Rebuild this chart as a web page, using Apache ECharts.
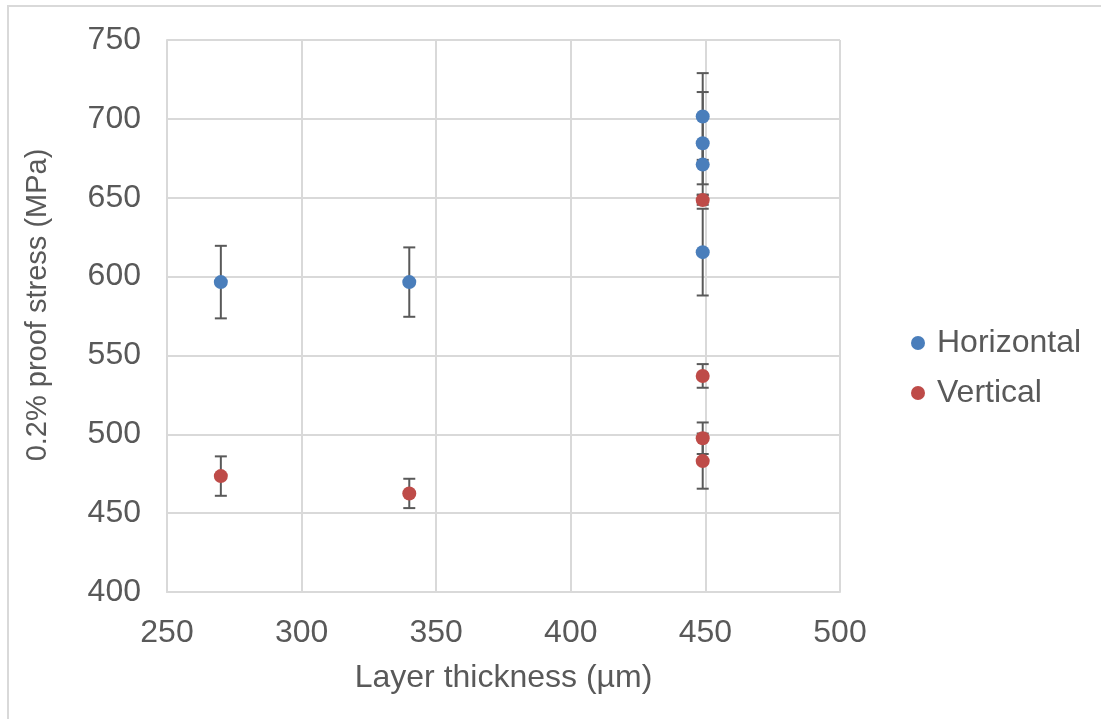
<!DOCTYPE html>
<html>
<head>
<meta charset="utf-8">
<script src="https://cdn.jsdelivr.net/npm/echarts@6/dist/echarts.min.js"></script>
<style>
  html, body { margin: 0; padding: 0; background: #ffffff; }
  #chart { width: 1101px; height: 719px; }
</style>
</head>
<body>
<div id="chart"></div>
<script>
// Layer thickness (µm) vs 0.2% proof stress (MPa), with ± error bars
const xTicks = [250, 300, 350, 400, 450, 500];
const yTicks = [400, 450, 500, 550, 600, 650, 700, 750];

const horizontalX = [270, 340, 449, 449, 449, 449];
const horizontalY = [596.5, 596.5, 701.5, 684.5, 671, 615.5];
const horizontalErr = [23, 22, 27.5, 32.5, 12.5, 27.5];

const verticalX = [270, 340, 449, 449, 449, 449];
const verticalY = [473.5, 462.5, 648.5, 537, 497.5, 483];
const verticalErr = [12.5, 9.3, 3, 7.5, 10, 17.5];

const FONT = '"Liberation Sans", Arial, sans-serif';
const TEXT = '#595959';
const GRID = '#d9d9d9';

function points(xs, ys) {
  return xs.map((x, i) => [x, ys[i]]);
}
function ranges(xs, ys, errs) {
  return xs.map((x, i) => [x, ys[i] - errs[i], ys[i] + errs[i]]);
}

// Vertical error bar with end caps
function renderErrorBar(params, api) {
  const x = api.value(0);
  const top = api.coord([x, api.value(2)]);
  const bot = api.coord([x, api.value(1)]);
  const half = 6;
  const style = { stroke: '#595959', lineWidth: 2 };
  return {
    type: 'group',
    children: [
      { type: 'line', shape: { x1: top[0], y1: top[1], x2: bot[0], y2: bot[1] }, style },
      { type: 'line', shape: { x1: top[0] - half, y1: top[1], x2: top[0] + half, y2: top[1] }, style },
      { type: 'line', shape: { x1: bot[0] - half, y1: bot[1], x2: bot[0] + half, y2: bot[1] }, style }
    ]
  };
}

const chart = echarts.init(document.getElementById('chart'), null, { renderer: 'canvas' });

chart.setOption({
  backgroundColor: '#ffffff',
  animation: false,
  textStyle: { fontFamily: FONT },
  graphic: [
    {
      type: 'rect',
      shape: { x: 8, y: 6, width: 1200, height: 800 },
      style: { fill: 'none', stroke: GRID, lineWidth: 2 },
      silent: true
    },
    {
      // y-axis title
      type: 'text',
      x: 38,
      y: 305,
      rotation: Math.PI / 2,
      style: {
        text: '0.2% proof stress (MPa)',
        fill: TEXT,
        font: '29px "Liberation Sans", Arial, sans-serif',
        align: 'center',
        verticalAlign: 'middle'
      },
      silent: true
    }
  ],
  grid: { left: 167, right: 261, top: 40, bottom: 127 },
  legend: {
    orient: 'vertical',
    left: 906,
    top: 322,
    itemGap: 18,
    itemWidth: 14,
    itemHeight: 14,
    icon: 'circle',
    textStyle: { color: TEXT, fontSize: 32, fontFamily: FONT, padding: [0, 0, 0, 7] },
    data: ['Horizontal', 'Vertical']
  },
  xAxis: {
    type: 'value',
    min: xTicks[0],
    max: xTicks[xTicks.length - 1],
    interval: 50,
    name: 'Layer thickness (µm)',
    nameLocation: 'middle',
    nameGap: 70,
    nameTextStyle: { color: TEXT, fontSize: 32, fontFamily: FONT },
    axisLine: { show: true, lineStyle: { color: GRID, width: 2 } },
    axisTick: { show: false },
    axisLabel: { color: TEXT, fontSize: 32, margin: 25, fontFamily: FONT },
    splitLine: { show: true, lineStyle: { color: GRID, width: 2 } }
  },
  yAxis: {
    type: 'value',
    min: yTicks[0],
    max: yTicks[yTicks.length - 1],
    interval: 50,
    axisLine: { show: true, lineStyle: { color: GRID, width: 2 } },
    axisTick: { show: false },
    axisLabel: { color: TEXT, fontSize: 32, margin: 26, fontFamily: FONT },
    splitLine: { show: true, lineStyle: { color: GRID, width: 2 } }
  },
  series: [
    {
      name: 'HorizontalErr',
      type: 'custom',
      renderItem: renderErrorBar,
      data: ranges(horizontalX, horizontalY, horizontalErr),
      encode: { x: 0, y: [1, 2] },
      z: 1,
      silent: true
    },
    {
      name: 'VerticalErr',
      type: 'custom',
      renderItem: renderErrorBar,
      data: ranges(verticalX, verticalY, verticalErr),
      encode: { x: 0, y: [1, 2] },
      z: 1,
      silent: true
    },
    {
      name: 'Horizontal',
      type: 'scatter',
      symbol: 'circle',
      symbolSize: 14,
      itemStyle: { color: '#4a7ebb', opacity: 1 },
      data: points(horizontalX, horizontalY),
      z: 3
    },
    {
      name: 'Vertical',
      type: 'scatter',
      symbol: 'circle',
      symbolSize: 14,
      itemStyle: { color: '#be4b48', opacity: 1 },
      data: points(verticalX, verticalY),
      z: 3
    }
  ]
});
</script>
</body>
</html>
